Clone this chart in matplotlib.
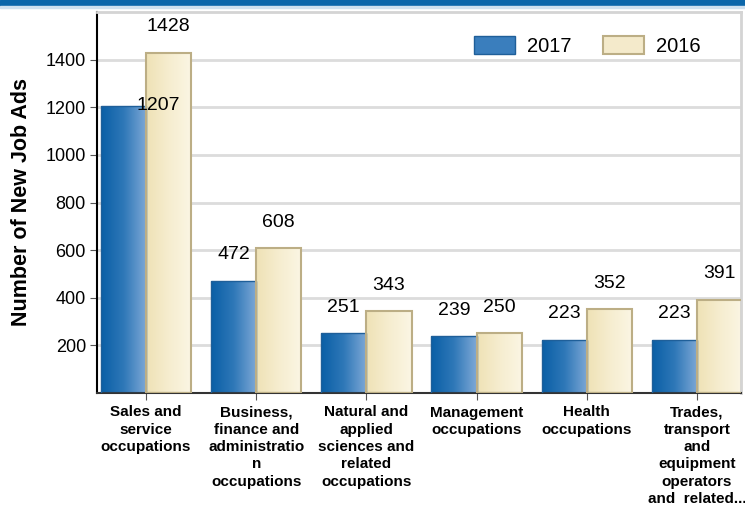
import numpy as np
import matplotlib
matplotlib.use('Agg')
import matplotlib.pyplot as plt
from matplotlib.colors import LinearSegmentedColormap
from matplotlib.patches import Rectangle, Patch

plt.rcParams['font.family'] = ['Liberation Sans', 'DejaVu Sans']

# data
categories = ['Sales and\nservice\noccupations',
              'Business,\nfinance and\nadministratio\nn\noccupations',
              'Natural and\napplied\nsciences and\nrelated\noccupations',
              'Management\noccupations',
              'Health\noccupations',
              'Trades,\ntransport\nand\nequipment\noperators\nand  related...']
ads_2017 = [1207, 472, 251, 239, 223, 223]
ads_2016 = [1428, 608, 343, 250, 352, 391]
yticks = [200, 400, 600, 800, 1000, 1200, 1400]

blue_cmap = LinearSegmentedColormap.from_list('blue', ['#0a5fa6', '#2f78b8', '#7ea8d6'])
beige_cmap = LinearSegmentedColormap.from_list('beige', ['#efe2b6', '#f6edcf', '#fbf6e4'])

fig = plt.figure(figsize=(7.45, 5.07), dpi=100)
# top banner
fig.patches.append(Rectangle((0, 1 - 6/507), 1, 6/507, transform=fig.transFigure,
                             color='#0b66aa', zorder=0))
fig.patches.append(Rectangle((0, 1 - 8/507), 1, 2/507, transform=fig.transFigure,
                             color='#cfe0ef', zorder=0))

ax = fig.add_axes([97/745, 1 - 393/507, 644/745, 381/507])

x = np.arange(len(categories))
w = 0.41
bars17 = ax.bar(x - w/2, ads_2017, w, color='none', edgecolor='#1f5f99', linewidth=1.0, zorder=3)
bars16 = ax.bar(x + w/2, ads_2016, w, color='none', edgecolor='#bcae85', linewidth=1.5, zorder=3)

grad = np.linspace(0, 1, 64).reshape(1, -1)
for bars, cmap in [(bars17, blue_cmap), (bars16, beige_cmap)]:
    for b in bars:
        x0, y0 = b.get_x(), b.get_y()
        im = ax.imshow(grad, cmap=cmap, aspect='auto', zorder=2,
                       extent=[x0, x0 + b.get_width(), y0, y0 + b.get_height()])
        im.set_clip_path(b)

for i, b in enumerate(bars17):
    if i == 0:
        ax.annotate(str(ads_2017[i]), (b.get_x() + b.get_width()/2, b.get_height()),
                    xytext=(35, 0), textcoords='offset pixels', ha='center', va='center',
                    fontsize=14, zorder=5)
    else:
        ax.annotate(str(ads_2017[i]), (b.get_x() + b.get_width()/2, b.get_height()),
                    xytext=(0, 26), textcoords='offset pixels', ha='center', va='center',
                    fontsize=14, zorder=5)
for i, b in enumerate(bars16):
    ax.annotate(str(ads_2016[i]), (b.get_x() + b.get_width()/2, b.get_height()),
                xytext=(0, 26), textcoords='offset pixels', ha='center', va='center',
                fontsize=14, zorder=5)

ax.set_xlim(-0.445, 5.4)
ax.set_ylim(0, 1600)
ax.set_yticks(yticks)
ax.set_yticklabels([str(t) for t in yticks], fontsize=13)
ax.set_xticks(x)
ax.set_xticklabels(categories, fontsize=11, fontweight='bold', linespacing=1.3)
ax.tick_params(axis='y', length=5, color='#555555', pad=3)
ax.tick_params(axis='x', length=5, color='#555555', pad=4)
ax.set_ylabel('Number of New Job Ads', fontsize=15.5, fontweight='bold', labelpad=10)

ax.grid(axis='y', color='#dcdcdc', linewidth=2, zorder=0)
ax.set_axisbelow(True)
ax.spines['left'].set_color('black')
ax.spines['left'].set_linewidth(1.5)
ax.spines['bottom'].set_color('#333333')
ax.spines['bottom'].set_linewidth(1.5)
for s in ['top', 'right']:
    ax.spines[s].set_color('#d4d4d4')
    ax.spines[s].set_linewidth(2)

handles = [Patch(facecolor='#3a7ebd', edgecolor='#1f5f99', label='2017'),
           Patch(facecolor='#f4eacb', edgecolor='#bcae85', linewidth=1.5, label='2016')]
ax.legend(handles=handles, loc='upper right', ncol=2, frameon=False, fontsize=14.5,
          bbox_to_anchor=(0.965, 0.985), handlelength=2.0, handleheight=1.0,
          columnspacing=1.6, handletextpad=0.6)

fig.savefig('out.png', dpi=100)
